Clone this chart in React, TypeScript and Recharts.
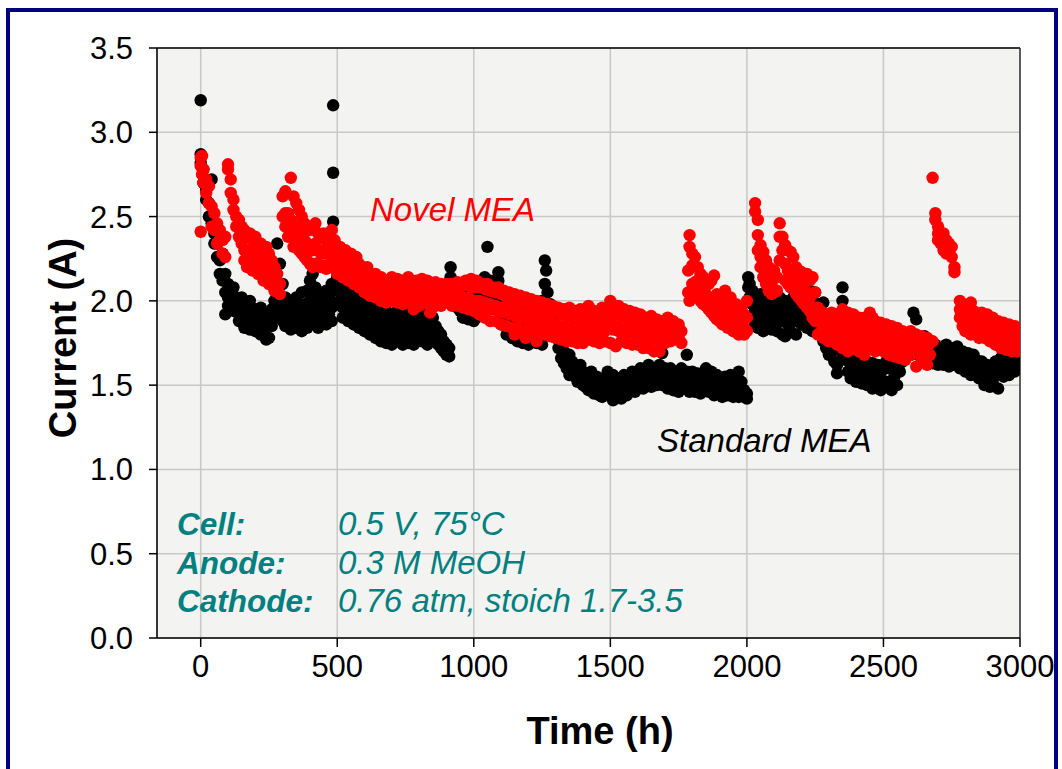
import React from 'react';
import {
  ScatterChart,
  Scatter,
  XAxis,
  YAxis,
  CartesianGrid,
  ReferenceLine,
} from 'recharts';

// [time (h), currents (A) read at that time]
type Bin = [number, number[]];

const timeTicks = [0, 500, 1000, 1500, 2000, 2500, 3000];
const currentTicks = [0, 0.5, 1, 1.5, 2, 2.5, 3, 3.5];

// Standard MEA (black)
const standard0to500: Bin[] = [
  [0, [3.19, 2.87, 2.82]], [10, [2.78, 2.7]], [20, [2.66, 2.6]], [30, [2.58, 2.5]],
  [40, [2.72, 2.46]], [50, [2.4, 2.34]], [60, [2.34, 2.26]], [70, [2.24, 2.16]],
  [80, [2.28, 2.12]], [90, [2.16, 2.05, 1.92]], [100, [2.1, 2.02, 1.97]], [110, [2.06, 1.98]],
  [120, [2.08, 2.0, 1.94]], [130, [2.02, 1.95]], [140, [2.0, 1.92, 1.88]], [150, [2.02, 1.9]],
  [160, [1.96, 1.88, 1.84]], [170, [1.94, 1.86]], [180, [2.0, 1.9, 1.83]], [190, [1.92, 1.86]],
  [200, [1.95, 1.88, 1.82]], [210, [1.9, 1.84]], [220, [1.96, 1.88, 1.8]], [230, [1.92, 1.82]],
  [240, [1.87, 1.77]], [250, [1.9, 1.78]], [260, [1.95, 1.85]], [270, [2.0, 1.9]],
  [280, [2.34, 2.08, 1.95]], [290, [2.22, 2.02, 1.92]], [300, [2.1, 1.96, 1.88]], [310, [2.02, 1.92, 1.85]],
  [320, [1.98, 1.88]], [330, [2.0, 1.9, 1.83]], [340, [1.95, 1.86]], [350, [2.02, 1.9, 1.84]],
  [360, [1.96, 1.86]], [370, [2.05, 1.92, 1.82]], [380, [1.98, 1.88]], [390, [2.06, 1.94, 1.84]],
  [400, [2.12, 2.0, 1.9]], [410, [2.16, 2.04, 1.94]], [420, [2.08, 1.96, 1.88]], [430, [2.0, 1.9, 1.84]],
  [440, [2.04, 1.92, 1.86]], [450, [1.98, 1.88]], [460, [2.06, 1.95, 1.86]], [470, [2.02, 1.92]],
  [480, [2.1, 1.96, 1.88]], [485, [3.16, 2.76, 2.47]], [490, [2.32, 2.2]],
];

const standard500to1000: Bin[] = [
  [500, [2.14, 2.06, 1.98]], [510, [2.08, 2.0]], [520, [2.05, 1.96, 1.9]], [530, [2.02, 1.94]],
  [540, [2.06, 1.98, 1.88]], [550, [2.0, 1.92]], [560, [2.04, 1.94, 1.86]], [570, [1.98, 1.9]],
  [580, [2.02, 1.92, 1.84]], [590, [1.96, 1.88]], [600, [2.0, 1.9, 1.82]], [610, [1.95, 1.86]],
  [620, [1.98, 1.88, 1.8]], [630, [1.93, 1.84]], [640, [1.96, 1.86, 1.78]], [650, [1.92, 1.82]],
  [660, [1.95, 1.85, 1.76]], [670, [1.9, 1.8]], [680, [1.94, 1.84, 1.75]], [690, [1.88, 1.78]],
  [700, [1.92, 1.82, 1.74]], [710, [1.9, 1.8]], [720, [1.94, 1.84, 1.76]], [730, [1.88, 1.78]],
  [740, [1.92, 1.82, 1.74]], [750, [1.86, 1.78]], [760, [1.9, 1.82, 1.75]], [770, [1.95, 1.85]],
  [780, [1.9, 1.8, 1.74]], [790, [1.94, 1.84]], [800, [1.88, 1.78]], [810, [1.92, 1.82, 1.76]],
  [820, [1.86, 1.78]], [830, [1.9, 1.8, 1.74]], [840, [1.86, 1.77]], [850, [1.9, 1.8]],
  [860, [1.85, 1.76]], [870, [1.82, 1.74]], [880, [1.8, 1.72]], [890, [1.76, 1.7]],
  [900, [1.74, 1.68]], [910, [1.72, 1.67]], [915, [2.2, 2.14]], [920, [2.1, 2.04]],
  [930, [2.06, 1.98]], [940, [2.04, 1.96]], [950, [2.02, 1.94]], [960, [2.06, 1.95, 1.9]],
  [970, [2.0, 1.92]], [980, [2.04, 1.94, 1.89]], [990, [1.98, 1.92]],
];

const standard1000to1500: Bin[] = [
  [1000, [2.02, 1.94, 1.88]], [1010, [1.98, 1.9]], [1020, [2.05, 1.95]], [1030, [2.1, 2.0]],
  [1040, [2.14, 2.04]], [1050, [2.32, 2.1]], [1060, [2.12, 2.02]], [1070, [2.08, 1.98]],
  [1080, [2.1, 2.0]], [1090, [2.17, 2.12, 1.98]], [1100, [2.04, 1.94, 1.86]], [1110, [2.0, 1.9]],
  [1120, [1.96, 1.86, 1.8]], [1130, [1.98, 1.9]], [1140, [1.94, 1.84, 1.78]], [1150, [1.96, 1.88]],
  [1160, [1.92, 1.83, 1.76]], [1170, [1.95, 1.86]], [1180, [1.9, 1.82, 1.75]], [1190, [1.93, 1.85]],
  [1200, [1.9, 1.8, 1.74]], [1210, [1.94, 1.85]], [1220, [1.88, 1.8]], [1230, [1.92, 1.82, 1.75]],
  [1240, [1.96, 1.86]], [1250, [2.0, 1.9, 1.74]], [1260, [2.24, 2.1, 1.95]], [1265, [2.18]],
  [1270, [2.05, 1.92]], [1280, [1.98, 1.88]], [1290, [1.92, 1.84]], [1300, [1.86, 1.78]],
  [1310, [1.8, 1.72]], [1320, [1.74, 1.66]], [1330, [1.7, 1.63]], [1340, [1.66, 1.6]],
  [1350, [1.68, 1.6, 1.56]], [1360, [1.64, 1.57]], [1370, [1.62, 1.55]], [1380, [1.6, 1.52]],
  [1390, [1.62, 1.54]], [1400, [1.58, 1.5]], [1410, [1.56, 1.49]], [1420, [1.55, 1.47]],
  [1430, [1.58, 1.5]], [1440, [1.52, 1.45]], [1450, [1.55, 1.47]], [1460, [1.5, 1.44]],
  [1470, [1.48, 1.43]], [1480, [1.54, 1.46]], [1490, [1.58, 1.5]],
];

const standard1500to2000: Bin[] = [
  [1500, [1.52, 1.45]], [1510, [1.56, 1.41]], [1520, [1.5, 1.44]], [1530, [1.54, 1.46]],
  [1540, [1.52, 1.42]], [1550, [1.56, 1.48]], [1560, [1.5, 1.44]], [1570, [1.55, 1.47]],
  [1580, [1.58, 1.5]], [1590, [1.53, 1.46]], [1600, [1.56, 1.48]], [1610, [1.6, 1.52]],
  [1620, [1.55, 1.48]], [1630, [1.58, 1.5]], [1640, [1.62, 1.54]], [1650, [1.56, 1.49]],
  [1660, [1.6, 1.52]], [1670, [1.57, 1.5]], [1680, [1.62, 1.54]], [1690, [1.69, 1.58, 1.5]],
  [1700, [1.6, 1.52]], [1710, [1.56, 1.48]], [1720, [1.6, 1.52]], [1730, [1.55, 1.47]],
  [1740, [1.58, 1.5]], [1750, [1.54, 1.46]], [1760, [1.6, 1.5]], [1770, [1.56, 1.48]],
  [1780, [1.68, 1.58, 1.5]], [1790, [1.55, 1.46]], [1800, [1.58, 1.5]], [1810, [1.54, 1.46]],
  [1820, [1.57, 1.49]], [1830, [1.52, 1.45]], [1840, [1.56, 1.48]], [1850, [1.6, 1.5]],
  [1860, [1.54, 1.46]], [1870, [1.58, 1.48]], [1880, [1.52, 1.44]], [1890, [1.56, 1.47]],
  [1900, [1.54, 1.45]], [1910, [1.5, 1.43]], [1920, [1.55, 1.46]], [1930, [1.52, 1.44]],
  [1940, [1.56, 1.47]], [1950, [1.5, 1.43]], [1960, [1.54, 1.45]], [1970, [1.58, 1.48, 1.43]],
  [1980, [1.52, 1.44]], [1990, [1.47, 1.43]], [2000, [1.45, 1.42]],
];

const standard2000to2500: Bin[] = [
  [2005, [2.14, 2.08]], [2010, [2.1, 2.02]], [2020, [2.06, 1.98, 1.9]], [2030, [2.02, 1.94, 1.86]],
  [2040, [2.0, 1.92, 1.84]], [2050, [2.04, 1.95, 1.86]], [2060, [1.98, 1.9, 1.82]], [2070, [2.02, 1.93, 1.85]],
  [2080, [1.97, 1.88]], [2090, [2.0, 1.91, 1.83]], [2100, [1.95, 1.86]], [2110, [1.98, 1.9, 1.82]],
  [2120, [2.02, 1.93]], [2130, [1.96, 1.88, 1.8]], [2140, [2.0, 1.92, 1.79]], [2150, [1.95, 1.86]],
  [2160, [1.98, 1.9, 1.82]], [2170, [2.02, 1.93]], [2180, [1.96, 1.88, 1.8]], [2190, [2.0, 1.9]],
  [2200, [2.04, 1.94, 1.86]], [2210, [1.98, 1.9]], [2220, [2.02, 1.93, 1.84]], [2230, [2.06, 1.96]],
  [2240, [2.0, 1.9, 1.82]], [2250, [2.05, 1.95]], [2260, [1.98, 1.88]], [2270, [1.92, 1.82]],
  [2280, [1.99, 1.84, 1.76]], [2290, [1.8, 1.72]], [2300, [1.76, 1.68]], [2310, [1.74, 1.7]],
  [2320, [1.72, 1.64]], [2330, [1.57, 1.62]], [2350, [2.08, 2.0, 1.68]], [2360, [1.7, 1.65]],
  [2370, [1.66, 1.58]], [2380, [1.68, 1.6, 1.54]], [2390, [1.64, 1.56]], [2400, [1.66, 1.57, 1.52]],
  [2410, [1.62, 1.55]], [2420, [1.65, 1.57, 1.51]], [2430, [1.6, 1.53]], [2440, [1.64, 1.56, 1.5]],
  [2450, [1.6, 1.52]], [2460, [1.63, 1.55, 1.48]], [2470, [1.58, 1.5]], [2480, [1.62, 1.54, 1.51]],
  [2490, [1.57, 1.47]],
];

const standard2500to3000: Bin[] = [
  [2500, [1.6, 1.52]], [2510, [1.64, 1.49]], [2520, [1.6, 1.52]], [2530, [1.65, 1.47]],
  [2540, [1.62, 1.55]], [2550, [1.68, 1.5]], [2560, [1.72, 1.58]], [2570, [1.75, 1.64]],
  [2580, [1.78, 1.68]], [2590, [1.8, 1.72]], [2600, [1.76, 1.68]], [2610, [1.93, 1.78]],
  [2620, [1.89, 1.74]], [2630, [1.76, 1.68]], [2640, [1.72, 1.65]], [2650, [1.79, 1.68]],
  [2660, [1.72, 1.64]], [2670, [1.75, 1.67]], [2680, [1.7, 1.63]], [2690, [1.74, 1.66]],
  [2700, [1.68, 1.62]], [2710, [1.72, 1.65]], [2720, [1.7, 1.62]], [2730, [1.74, 1.66]],
  [2740, [1.68, 1.61]], [2750, [1.72, 1.64]], [2760, [1.7, 1.62]], [2770, [1.73, 1.65]],
  [2780, [1.68, 1.6]], [2790, [1.7, 1.62]], [2800, [1.66, 1.58]], [2810, [1.69, 1.61]],
  [2820, [1.64, 1.56]], [2830, [1.68, 1.6]], [2840, [1.65, 1.57]], [2850, [1.6, 1.54]],
  [2860, [1.64, 1.56]], [2870, [1.6, 1.5]], [2880, [1.62, 1.52]], [2890, [1.58, 1.49]],
  [2900, [1.6, 1.52]], [2910, [1.64, 1.56]], [2920, [1.6, 1.48]], [2930, [1.66, 1.58]],
  [2940, [1.62, 1.55]], [2950, [1.67, 1.59]], [2960, [1.63, 1.56]], [2970, [1.68, 1.6]],
  [2980, [1.64, 1.58]], [2990, [1.66, 1.6]],
];

// Novel MEA (red)
const novel0to500: Bin[] = [
  [0, [2.85, 2.8, 2.41]], [5, [2.86, 2.75]], [10, [2.78, 2.7]], [20, [2.72, 2.64]],
  [30, [2.68, 2.58]], [40, [2.56, 2.44]], [50, [2.52, 2.42]], [60, [2.46, 2.34]],
  [70, [2.42, 2.36]], [80, [2.36, 2.28]], [90, [2.38, 2.26]], [100, [2.81, 2.78]],
  [110, [2.72, 2.64]], [120, [2.6, 2.54]], [130, [2.5, 2.44]], [140, [2.48, 2.38]],
  [150, [2.44, 2.34]], [160, [2.42, 2.3, 2.24]], [170, [2.38, 2.28, 2.2]], [180, [2.4, 2.3, 2.22]],
  [190, [2.36, 2.26, 2.18]], [200, [2.38, 2.28, 2.2]], [210, [2.32, 2.22, 2.16]], [220, [2.34, 2.24, 2.18]],
  [230, [2.3, 2.2, 2.12]], [240, [2.32, 2.22, 2.14]], [250, [2.28, 2.18, 2.1]], [260, [2.24, 2.14, 2.1]],
  [270, [2.2, 2.12, 2.06]], [280, [2.16, 2.08]], [290, [2.1, 2.04]], [300, [2.62, 2.5]],
  [310, [2.65, 2.52, 2.44]], [320, [2.52, 2.44, 2.38]], [330, [2.73, 2.48, 2.38]], [340, [2.62, 2.4, 2.32]],
  [350, [2.58, 2.44, 2.34]], [360, [2.54, 2.4, 2.3]], [370, [2.5, 2.38, 2.28]], [380, [2.46, 2.36, 2.26]],
  [390, [2.44, 2.34, 2.24]], [400, [2.42, 2.32, 2.22]], [410, [2.44, 2.3, 2.2]], [420, [2.46, 2.34, 2.22]],
  [430, [2.4, 2.3, 2.22]], [440, [2.38, 2.28, 2.2]], [450, [2.4, 2.3, 2.21]], [460, [2.36, 2.28, 2.19]],
  [470, [2.4, 2.3, 2.2]], [480, [2.42, 2.32, 2.24]], [490, [2.36, 2.26]],
];

const novel500to1000: Bin[] = [
  [500, [2.3, 2.22, 2.16]], [510, [2.32, 2.24, 2.17]], [520, [2.28, 2.2, 2.14]], [530, [2.3, 2.22]],
  [540, [2.26, 2.18, 2.12]], [550, [2.28, 2.2]], [560, [2.24, 2.16, 2.1]], [570, [2.26, 2.18]],
  [580, [2.22, 2.14, 2.08]], [590, [2.2, 2.12]], [600, [2.18, 2.1, 2.05]], [610, [2.2, 2.12]],
  [620, [2.16, 2.08, 2.03]], [630, [2.14, 2.06]], [640, [2.16, 2.08, 2.02]], [650, [2.12, 2.05]],
  [660, [2.14, 2.06, 2.0]], [670, [2.1, 2.03]], [680, [2.12, 2.04, 1.99]], [690, [2.1, 2.02]],
  [700, [2.14, 2.06, 2.0]], [710, [2.1, 2.03]], [720, [2.13, 2.05, 1.99]], [730, [2.09, 2.02]],
  [740, [2.12, 2.04, 1.98]], [750, [2.1, 2.02]], [760, [2.14, 2.06, 1.99]], [770, [2.11, 2.04]],
  [780, [2.08, 2.0, 1.95]], [790, [2.12, 2.04]], [800, [2.1, 2.02, 1.97]], [810, [2.13, 2.05]],
  [820, [2.09, 2.01]], [830, [2.12, 2.04, 1.98]], [840, [2.1, 2.02, 1.93]], [850, [2.08, 2.0, 1.96]],
  [860, [2.11, 2.04]], [870, [2.08, 2.0]], [880, [2.1, 2.02, 1.97]], [890, [2.07, 2.0]],
  [900, [2.1, 2.03]], [910, [2.06, 1.99]], [920, [2.1, 2.02, 1.97]], [930, [2.08, 2.0]],
  [940, [2.11, 2.03, 1.97]], [950, [2.08, 2.01]], [960, [2.1, 2.02, 1.96]], [970, [2.12, 2.0]],
  [980, [2.09, 2.02, 1.95]], [990, [2.13, 1.99]],
];

const novel1000to1500: Bin[] = [
  [1000, [2.08, 2.0, 1.94]], [1010, [2.12, 1.98]], [1020, [2.08, 2.0, 1.92]], [1030, [2.1, 1.97]],
  [1040, [2.07, 1.99, 1.9]], [1050, [2.1, 1.96]], [1060, [2.06, 1.98, 1.88]], [1070, [2.08, 1.95]],
  [1080, [2.05, 1.97, 1.88]], [1090, [2.08, 1.94]], [1100, [2.04, 1.96, 1.86]], [1110, [2.06, 1.93]],
  [1120, [2.02, 1.95, 1.85]], [1130, [2.05, 1.92]], [1140, [2.01, 1.94, 1.84]], [1150, [2.04, 1.91, 1.8]],
  [1160, [2.0, 1.93, 1.84]], [1170, [2.03, 1.9]], [1180, [1.99, 1.92, 1.82]], [1190, [2.02, 1.89, 1.78]],
  [1200, [1.98, 1.91, 1.83]], [1210, [2.01, 1.88]], [1220, [1.97, 1.9, 1.8]], [1230, [2.0, 1.87, 1.76]],
  [1240, [1.96, 1.89, 1.81]], [1250, [1.99, 1.86]], [1260, [1.95, 1.88, 1.8]], [1270, [1.98, 1.85]],
  [1280, [1.94, 1.87, 1.79]], [1290, [1.97, 1.84]], [1300, [1.93, 1.86, 1.78]], [1310, [1.96, 1.83]],
  [1320, [1.92, 1.85, 1.77]], [1330, [1.95, 1.82]], [1340, [1.91, 1.84, 1.76]], [1350, [1.96, 1.81]],
  [1360, [1.9, 1.83, 1.76]], [1370, [1.94, 1.85]], [1380, [1.89, 1.82, 1.75]], [1390, [1.95, 1.84]],
  [1400, [1.88, 1.81, 1.75]], [1410, [1.93, 1.83]], [1420, [1.97, 1.85, 1.77]], [1430, [1.89, 1.82]],
  [1440, [1.94, 1.84, 1.76]], [1450, [1.88, 1.8]], [1460, [1.92, 1.83, 1.75]], [1470, [1.96, 1.85]],
  [1480, [1.89, 1.82, 1.76]], [1490, [1.93, 1.84]],
];

const novel1500to2000: Bin[] = [
  [1500, [2.0, 1.88, 1.75]], [1510, [1.95, 1.83]], [1520, [1.92, 1.85, 1.73]], [1530, [1.97, 1.82]],
  [1540, [1.91, 1.84, 1.76]], [1550, [1.95, 1.8]], [1560, [1.9, 1.83, 1.75]], [1570, [1.94, 1.85]],
  [1580, [1.89, 1.81, 1.74]], [1590, [1.93, 1.84]], [1600, [1.88, 1.8, 1.74]], [1610, [1.92, 1.82]],
  [1620, [1.86, 1.78, 1.72]], [1630, [1.9, 1.81]], [1640, [1.86, 1.78, 1.72]], [1650, [1.91, 1.8]],
  [1660, [1.85, 1.77, 1.7]], [1670, [1.89, 1.79]], [1680, [1.84, 1.76, 1.7]], [1690, [1.88, 1.78]],
  [1700, [1.83, 1.75]], [1710, [1.9, 1.79]], [1720, [1.85, 1.76]], [1730, [1.88, 1.8]],
  [1740, [1.84, 1.77]], [1750, [1.86, 1.78]], [1760, [1.82, 1.75]], [1785, [2.18, 2.05]],
  [1790, [2.39, 2.32, 2.0]], [1800, [2.28, 2.21, 2.1]], [1810, [2.26, 2.11, 2.04]], [1820, [2.2, 2.12, 2.02]],
  [1830, [2.16, 2.08, 2.0]], [1840, [2.14, 2.06, 1.98]], [1850, [2.12, 2.04, 1.97]], [1860, [2.1, 2.02, 1.95]],
  [1870, [2.12, 2.0, 1.93]], [1880, [2.15, 1.98, 1.91]], [1890, [2.04, 1.96, 1.89]], [1900, [2.02, 1.94, 1.88]],
  [1910, [2.0, 1.92, 1.86]], [1920, [2.06, 1.95, 1.86]], [1930, [1.98, 1.9, 1.84]], [1940, [2.02, 1.92, 1.84]],
  [1950, [1.96, 1.88, 1.82]], [1960, [1.98, 1.9, 1.82]], [1970, [1.94, 1.86, 1.8]], [1980, [1.96, 1.88, 1.81]],
  [1990, [1.92, 1.84, 1.8]],
];

const novel2000to2500: Bin[] = [
  [2000, [2.0, 1.9, 1.82]], [2030, [2.58, 2.53]], [2040, [2.48, 2.39, 2.3]], [2050, [2.33, 2.26, 2.2]],
  [2060, [2.29, 2.2, 2.14]], [2070, [2.24, 2.15, 2.1]], [2080, [2.2, 2.12, 2.06]], [2090, [2.16, 2.1, 2.04]],
  [2100, [2.18, 2.05]], [2110, [2.14, 2.06]], [2120, [2.46, 2.38, 2.24]], [2130, [2.38, 2.3]],
  [2140, [2.33, 2.22, 2.12]], [2150, [2.3, 2.18, 2.1]], [2160, [2.29, 2.16, 2.08]], [2170, [2.26, 2.16, 2.08]],
  [2180, [2.2, 2.12, 2.04]], [2190, [2.18, 2.1, 2.02]], [2200, [2.17, 2.08, 2.0]], [2210, [2.14, 2.06, 1.98]],
  [2220, [2.16, 2.05, 1.96]], [2230, [2.12, 2.02, 1.94]], [2240, [2.14, 2.04, 1.96, 1.9]], [2250, [2.05, 1.96, 1.88]],
  [2260, [1.96, 1.88, 1.8]], [2270, [1.94, 1.87, 1.81]], [2280, [1.9, 1.84, 1.78]], [2290, [1.92, 1.85, 1.8]],
  [2300, [1.88, 1.82, 1.76]], [2310, [1.93, 1.86, 1.79]], [2320, [1.89, 1.83, 1.77]], [2330, [1.92, 1.85, 1.74]],
  [2340, [1.88, 1.82, 1.75]], [2350, [1.95, 1.86, 1.72]], [2360, [1.9, 1.83, 1.77]], [2370, [1.93, 1.85, 1.7]],
  [2380, [1.89, 1.82, 1.76]], [2390, [1.92, 1.84, 1.72]], [2400, [1.88, 1.81, 1.75]], [2410, [1.9, 1.83, 1.7]],
  [2420, [1.87, 1.8, 1.74]], [2430, [1.9, 1.82, 1.68]], [2440, [1.86, 1.79, 1.73]], [2450, [1.93, 1.81, 1.74]],
  [2460, [1.9, 1.78, 1.72]], [2470, [1.88, 1.8, 1.7]], [2480, [1.84, 1.77, 1.71]], [2490, [1.87, 1.79, 1.72]],
];

const novel2500to3000: Bin[] = [
  [2500, [1.83, 1.76, 1.7]], [2510, [1.86, 1.78]], [2520, [1.82, 1.75, 1.68]], [2530, [1.85, 1.78]],
  [2540, [1.81, 1.74, 1.67]], [2550, [1.84, 1.77]], [2560, [1.8, 1.73, 1.66]], [2570, [1.82, 1.75]],
  [2580, [1.79, 1.72, 1.65]], [2590, [1.8, 1.74]], [2600, [1.82, 1.75, 1.68]], [2610, [1.78, 1.72]],
  [2620, [1.8, 1.74, 1.61]], [2630, [1.77, 1.7]], [2640, [1.79, 1.72, 1.66]], [2650, [1.76, 1.69]],
  [2660, [1.78, 1.72, 1.62]], [2670, [1.75, 1.68]], [2680, [2.73, 1.76]], [2690, [2.52, 2.48]],
  [2700, [2.44, 2.4, 2.36]], [2710, [2.38, 2.34]], [2720, [2.4, 2.35, 2.3]], [2730, [2.36, 2.32, 2.28]],
  [2740, [2.34, 2.3]], [2750, [2.32, 2.26]], [2760, [2.2, 2.17]], [2780, [2.0, 1.95, 1.9]],
  [2790, [1.96, 1.9, 1.85]], [2800, [1.94, 1.88, 1.82]], [2810, [1.96, 1.9, 1.84]], [2820, [1.99, 1.86, 1.8]],
  [2830, [1.94, 1.88, 1.82]], [2840, [1.92, 1.86, 1.8]], [2850, [1.9, 1.84, 1.78]], [2860, [1.93, 1.86, 1.8]],
  [2870, [1.9, 1.84, 1.78]], [2880, [1.92, 1.85, 1.79]], [2890, [1.88, 1.82, 1.76]], [2900, [1.9, 1.83, 1.77]],
  [2910, [1.86, 1.8, 1.74]], [2920, [1.88, 1.82, 1.75]], [2930, [1.85, 1.78, 1.72]], [2940, [1.87, 1.8, 1.73]],
  [2950, [1.84, 1.77, 1.71]], [2960, [1.86, 1.79, 1.72]], [2970, [1.83, 1.76, 1.7]], [2980, [1.85, 1.78, 1.72]],
  [2990, [1.82, 1.75, 1.7]], [3000, [1.8, 1.74]],
];

const toPoints = (bins: Bin[]) =>
  bins.flatMap(([time, values]) => values.map((current) => ({ time, current })));

const standardPoints = toPoints([
  ...standard0to500, ...standard500to1000, ...standard1000to1500,
  ...standard1500to2000, ...standard2000to2500, ...standard2500to3000,
]);
const novelPoints = toPoints([
  ...novel0to500, ...novel500to1000, ...novel1000to1500,
  ...novel1500to2000, ...novel2000to2500, ...novel2500to3000,
]);

const FONT = '"Liberation Sans", Arial, sans-serif';
const TEAL = '#008080';

const dot = (color: string) => (props: any) =>
  <circle cx={props.cx} cy={props.cy} r={6.2} fill={color} />;

const App = () => {
  return (
    <div style={{ position: 'absolute', left: 0, top: 0, width: 1062, height: 769, overflow: 'hidden', background: '#fff', fontFamily: FONT }}>
      <div style={{ position: 'absolute', left: 6, top: 8, width: 1044, height: 800, border: '4px solid #000080', borderBottom: 'none' }} />
      <div style={{ position: 'absolute', left: 0, top: 0 }}>
        <ScatterChart width={1062} height={769} margin={{ top: 48, right: 42, bottom: 71, left: 97 }}>
          <CartesianGrid fill="#f3f3f1" stroke="#c8c8c8" strokeWidth={1.5} />
          <XAxis
            type="number"
            dataKey="time"
            domain={[-160, 3000]}
            ticks={timeTicks}
            allowDataOverflow
            height={60}
            tickSize={9}
            tickMargin={8}
            axisLine={{ stroke: '#000', strokeWidth: 1.5 }}
            tickLine={{ stroke: '#000', strokeWidth: 1.5 }}
            tick={{ fill: '#000', fontSize: 31, fontFamily: FONT }}
          />
          <YAxis
            type="number"
            dataKey="current"
            domain={[0, 3.5]}
            ticks={currentTicks}
            allowDataOverflow
            width={60}
            tickSize={8}
            tickMargin={16}
            tickFormatter={(v: number) => v.toFixed(1)}
            axisLine={{ stroke: '#000', strokeWidth: 1.5 }}
            tickLine={{ stroke: '#000', strokeWidth: 1.5 }}
            tick={{ fill: '#000', fontSize: 31, fontFamily: FONT }}
          />
          <ReferenceLine y={3.5} stroke="#000" strokeWidth={1.5} />
          <ReferenceLine x={3000} stroke="#333" strokeWidth={1.5} />
          <Scatter name="Standard MEA" data={standardPoints} shape={dot('#000')} isAnimationActive={false} />
          <Scatter name="Novel MEA" data={novelPoints} shape={dot('#ff0000')} isAnimationActive={false} />
        </ScatterChart>
      </div>
      <svg width={1062} height={769} style={{ position: 'absolute', left: 0, top: 0, pointerEvents: 'none' }} fontFamily={FONT}>
        <text x={370} y={221} fontSize={33} fontStyle="italic" fill="#ff0000">Novel MEA</text>
        <text x={657} y={452} fontSize={33} fontStyle="italic" fill="#000">Standard MEA</text>
        <g fill={TEAL} fontSize={33} fontStyle="italic">
          <text x={177} y={535} fontSize={31.5} fontWeight="bold">Cell:</text>
          <text x={338} y={535}>0.5 V, 75°C</text>
          <text x={177} y={574} fontSize={31.5} fontWeight="bold">Anode:</text>
          <text x={338} y={574}>0.3 M MeOH</text>
          <text x={177} y={612} fontSize={31.5} fontWeight="bold">Cathode:</text>
          <text x={338} y={612}>0.76 atm, stoich 1.7-3.5</text>
        </g>
        <text x={600} y={744} fontSize={38} fontWeight="bold" textAnchor="middle" fill="#000">Time (h)</text>
        <text x={0} y={0} fontSize={38} fontWeight="bold" textAnchor="middle" fill="#000" transform="translate(76 338) rotate(-90)">Current (A)</text>
      </svg>
    </div>
  );
};

export default App;
